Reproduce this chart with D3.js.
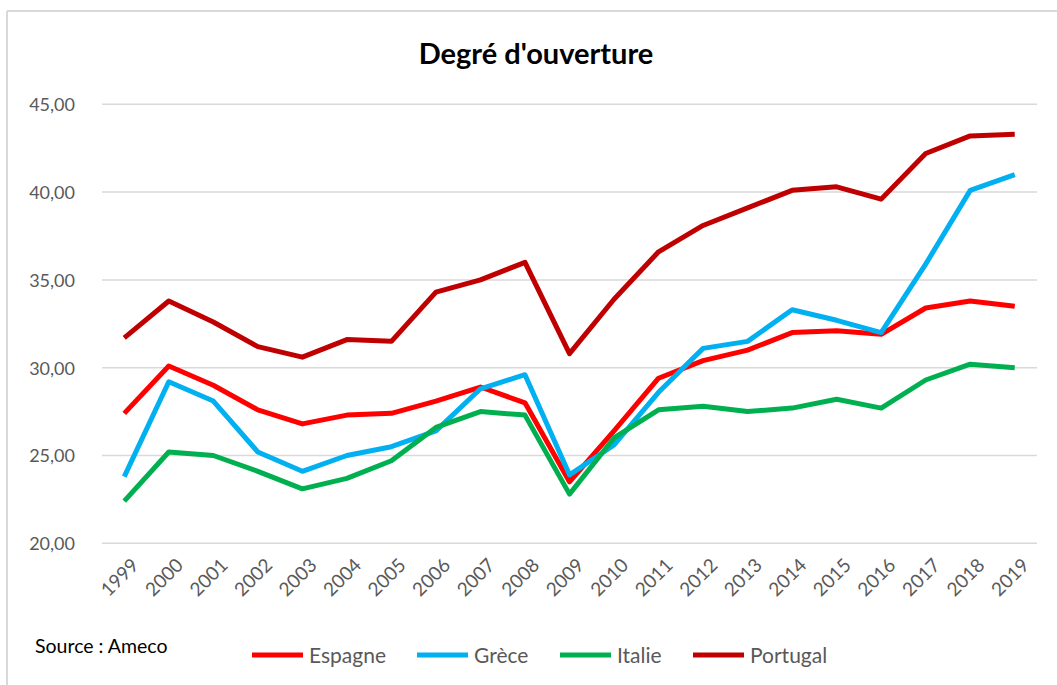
<!DOCTYPE html><html><head><meta charset="utf-8">
<script src="https://cdn.jsdelivr.net/npm/d3@7/dist/d3.min.js"></script>
<style>
  body { margin: 0; background: #fff; }
  text { font-family: Lato, "Open Sans", sans-serif; }
</style>
</head>
<body><svg id="chart"></svg>
<script>

var years = ["1999","2000","2001","2002","2003","2004","2005","2006","2007","2008","2009",
             "2010","2011","2012","2013","2014","2015","2016","2017","2018","2019"];

var espagne  = [27.4, 30.1, 29.0, 27.6, 26.8, 27.3, 27.4, 28.1, 28.9, 28.0, 23.5,
                26.4, 29.4, 30.4, 31.0, 32.0, 32.1, 31.9, 33.4, 33.8, 33.5];
var grece    = [23.8, 29.2, 28.1, 25.2, 24.1, 25.0, 25.5, 26.4, 28.8, 29.6, 23.9,
                25.6, 28.6, 31.1, 31.5, 33.3, 32.7, 32.0, 35.9, 40.1, 41.0];
var italie   = [22.4, 25.2, 25.0, 24.1, 23.1, 23.7, 24.7, 26.6, 27.5, 27.3, 22.8,
                26.0, 27.6, 27.8, 27.5, 27.7, 28.2, 27.7, 29.3, 30.2, 30.0];
var portugal = [31.7, 33.8, 32.6, 31.2, 30.6, 31.6, 31.5, 34.3, 35.0, 36.0, 30.8,
                33.9, 36.6, 38.1, 39.1, 40.1, 40.3, 39.6, 42.2, 43.2, 43.3];

var seriesNames = ["Espagne", "Grèce", "Italie", "Portugal"];
var seriesColors = ["#ff0000", "#00b0f0", "#00b050", "#c00000"];
var yTicks = [20, 25, 30, 35, 40, 45];

var width = 1057, height = 685;
var plotLeft = 102, plotRight = 1037, plotTop = 104.3, plotBottom = 543.3;

var svg = d3.select("#chart")
    .attr("width", width)
    .attr("height", height);

// frame (only top and left edges are visible)
svg.append("line").attr("x1", 7).attr("x2", width).attr("y1", 11).attr("y2", 11)
    .attr("stroke", "#d9d9d9").attr("stroke-width", 2);
svg.append("line").attr("x1", 7).attr("x2", 7).attr("y1", 11).attr("y2", height)
    .attr("stroke", "#d9d9d9").attr("stroke-width", 2);

var x = d3.scalePoint()
    .domain(years)
    .range([plotLeft, plotRight])
    .padding(0.5);

var y = d3.scaleLinear()
    .domain([20, 45])
    .range([plotBottom, plotTop]);

// grid
svg.selectAll(".grid")
    .data(yTicks)
    .enter().append("line")
      .attr("class", "grid")
      .attr("x1", plotLeft).attr("x2", plotRight)
      .attr("y1", function(d) { return y(d); })
      .attr("y2", function(d) { return y(d); })
      .attr("stroke", "#d9d9d9")
      .attr("stroke-width", 1.5);

// y axis labels
var fmt = function(d) { return d3.format(".2f")(d).replace(".", ","); };
var yAxis = svg.append("g")
    .attr("transform", "translate(" + (plotLeft - 24) + ",0)")
    .call(d3.axisLeft(y).tickValues(yTicks).tickFormat(fmt).tickSize(0));
yAxis.select(".domain").remove();
yAxis.selectAll("text")
    .attr("fill", "#595959")
    .style("font-size", "18px")
    .attr("dy", "0.35em");

// x axis labels
var xAxis = svg.append("g")
    .attr("transform", "translate(0," + plotBottom + ")")
    .call(d3.axisBottom(x).tickSize(0));
xAxis.select(".domain").remove();
xAxis.selectAll("text")
    .attr("fill", "#595959")
    .style("font-size", "19px")
    .style("text-anchor", "end")
    .attr("dy", "0")
    .attr("transform", "translate(13,21) rotate(-45)");

// lines
var allSeries = [espagne, grece, italie, portugal];
var line = d3.line()
    .x(function(d, i) { return x(years[i]); })
    .y(function(d) { return y(d); });

svg.selectAll(".series")
    .data(allSeries)
    .enter().append("path")
      .attr("class", "series")
      .attr("fill", "none")
      .attr("stroke", function(d, i) { return seriesColors[i]; })
      .attr("stroke-width", 5)
      .attr("stroke-linejoin", "round")
      .attr("d", line);

// title
svg.append("text")
    .attr("x", 536)
    .attr("y", 64)
    .style("text-anchor", "middle")
    .style("font-size", "29px")
    .style("font-weight", "bold")
    .attr("fill", "#000")
    .text("Degré d'ouverture");

// source
svg.append("text")
    .attr("x", 35)
    .attr("y", 653)
    .style("font-size", "19.5px")
    .attr("fill", "#000")
    .text("Source : Ameco");

// legend
var legendX = [252, 417, 560, 693];
var legend = svg.selectAll(".legend")
    .data(seriesNames)
    .enter().append("g")
      .attr("class", "legend")
      .attr("transform", function(d, i) { return "translate(" + legendX[i] + ",655)"; });

legend.append("line")
    .attr("x1", 0).attr("x2", 51)
    .attr("y1", 0).attr("y2", 0)
    .attr("stroke", function(d, i) { return seriesColors[i]; })
    .attr("stroke-width", 5);

legend.append("text")
    .attr("x", 57)
    .attr("y", 8)
    .style("font-size", "21px")
    .attr("fill", "#595959")
    .text(function(d) { return d; });

</script>
</body></html>
